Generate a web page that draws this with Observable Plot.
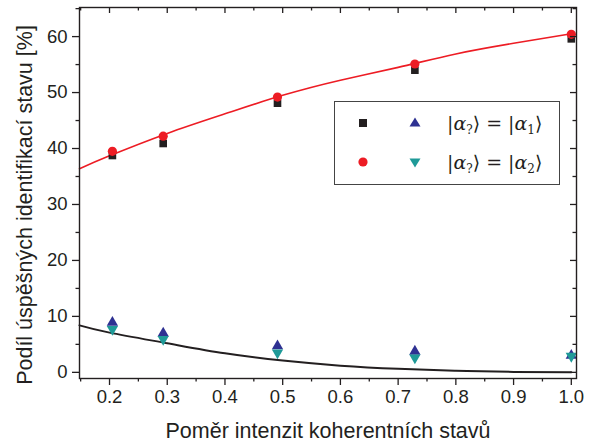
<!DOCTYPE html>
<html><head><meta charset="utf-8">
<script src="https://cdn.jsdelivr.net/npm/d3@7"></script>
<script src="https://cdn.jsdelivr.net/npm/@observablehq/plot@0.6"></script>
<style>
body{margin:0;background:#fff;}
#wrap{position:relative;width:590px;height:442px;}
#legend{position:absolute;left:334px;top:101px;width:226px;height:84px;border:1px solid #444;background:#fff;box-sizing:border-box;}
#legend .row{position:absolute;left:0;width:100%;height:30px;}
#legend svg{position:absolute;top:0;left:0;overflow:visible;}
#legend .txt{position:absolute;left:112px;top:2px;font-family:"DejaVu Serif","Liberation Serif",serif;font-size:19px;color:#231f20;white-space:nowrap;line-height:26px;}
#legend .txt i{font-style:italic;}
#legend .txt sub{font-size:12px;font-style:normal;vertical-align:-4px;line-height:0;}
</style></head><body><div id="wrap"></div>
<script>
// measured data
const ratio    = [0.205, 0.293, 0.491, 0.729, 1.0];
const squares  = [38.75, 40.9, 48.1, 54.0, 59.6];   // |α?>=|α1>, black squares
const circles  = [39.5, 42.2, 49.2, 55.1, 60.4];    // |α?>=|α2>, red circles
const triUp    = [8.9, 7.0, 4.7, 3.75, 3.0];        // |α?>=|α1>, blue triangles
const triDown  = [7.7, 5.9, 3.5, 2.6, 2.9];         // |α?>=|α2>, teal triangles
// fitted curves
const fitX     = [0.148, 0.2, 0.3, 0.4, 0.5, 0.6, 0.7, 0.8, 0.9, 1.0];
const fitRed   = [36.4, 38.7, 42.7, 46.2, 49.5, 52.2, 54.5, 56.9, 58.8, 60.5];
const fitBlack = [8.4, 7.1, 5.2, 3.4, 2.1, 1.2, 0.65, 0.3, 0.08, 0.0];
// ticks
const xMajor = [0.2, 0.3, 0.4, 0.5, 0.6, 0.7, 0.8, 0.9, 1.0];
const xMinor = [0.15, 0.25, 0.35, 0.45, 0.55, 0.65, 0.75, 0.85, 0.95];
const yMajor = [0, 10, 20, 30, 40, 50, 60];
const yMinor = [5, 15, 25, 35, 45, 55, 65];
const xLabel = "Poměr intenzit koherentních stavů";
const yLabel = "Podíl úspěšných identifikací stavu [%]";

const pts = (xs, ys) => xs.map((x, i) => ({x, y: ys[i]}));
const dark = "#231f20";
const W = 590, H = 442, mT = 7, mB = 64, mL = 79, mR = 14;
const fh = H - mT - mB, fw = W - mL - mR;

const chart = Plot.plot({
  width: W, height: H,
  marginTop: mT, marginBottom: mB, marginLeft: mL, marginRight: mR,
  style: {fontFamily: "'Liberation Sans', Arial, sans-serif", color: dark, background: "#fff"},
  x: {domain: [0.148, 1.009]},
  y: {domain: [-1.1, 65.2]},
  marks: [
    Plot.line(pts(fitX, fitBlack), {x: "x", y: "y", stroke: dark, strokeWidth: 2, curve: "natural"}),
    Plot.line(pts(fitX, fitRed), {x: "x", y: "y", stroke: "#ed1c24", strokeWidth: 1.6, curve: "natural"}),
    Plot.dot(pts(ratio, squares), {x: "x", y: "y", symbol: "square", r: 4.3, fill: dark, stroke: null}),
    Plot.dot(pts(ratio, circles), {x: "x", y: "y", symbol: "circle", r: 4.6, fill: "#ed1c24", stroke: null}),
    Plot.dot(pts(ratio, triUp), {x: "x", y: "y", symbol: "triangle", r: 4.2, fill: "#2e3192", stroke: null}),
    Plot.dot(pts(ratio, triDown), {x: "x", y: "y", symbol: "triangle", rotate: 180, r: 4.2, fill: "#1f9a98", stroke: null}),
    // bottom axis (outward ticks)
    Plot.axisX({ticks: xMajor, tickSize: 7, tickPadding: 4, tickFormat: d3.format(".1f"), fontSize: 18.5, label: null, stroke: dark, strokeWidth: 1.3}),
    Plot.axisX({ticks: xMinor, tickSize: 3.5, tickFormat: () => "", label: null, stroke: dark, strokeWidth: 1.3}),
    // left axis (outward ticks)
    Plot.axisY({ticks: yMajor, tickSize: 7, tickPadding: 5, tickFormat: d3.format("d"), fontSize: 18.5, label: null, stroke: dark, strokeWidth: 1.3}),
    Plot.axisY({ticks: yMinor, tickSize: 3.5, tickFormat: () => "", label: null, stroke: dark, strokeWidth: 1.3}),
    // top mirror ticks (inward)
    Plot.tickX(xMajor, {x: d => d, insetBottom: fh - 6, stroke: dark, strokeWidth: 1.3}),
    Plot.tickX(xMinor, {x: d => d, insetBottom: fh - 3.5, stroke: dark, strokeWidth: 1.3}),
    // right mirror ticks (inward)
    Plot.tickY(yMajor, {y: d => d, insetLeft: fw - 6, stroke: dark, strokeWidth: 1.3}),
    Plot.tickY(yMinor, {y: d => d, insetLeft: fw - 3.5, stroke: dark, strokeWidth: 1.3}),
    Plot.frame({stroke: dark, strokeWidth: 1.4}),
    Plot.text([xLabel], {frameAnchor: "bottom", textAnchor: "middle", dy: 59, fontSize: 21.5, fill: dark}),
    Plot.text([yLabel], {frameAnchor: "left", textAnchor: "middle", rotate: -90, dx: -54, dy: 12, fontSize: 21.5, fill: dark})
  ]
});
const wrap = document.getElementById("wrap");
wrap.appendChild(chart);

// legend overlay
const legendRows = [
  {m1: "square", c1: dark, m2: "up", c2: "#2e3192", sub: "1", top: 6},
  {m1: "circle", c1: "#ed1c24", m2: "down", c2: "#1f9a98", sub: "2", top: 45}
];
const lg = document.createElement("div");
lg.id = "legend";
for (const r of legendRows) {
  const row = document.createElement("div");
  row.className = "row";
  row.style.top = r.top + "px";
  const s1 = r.m1 === "square"
    ? `<rect x="24" y="11" width="8" height="8" fill="${r.c1}"/>`
    : `<circle cx="28" cy="15" r="4.6" fill="${r.c1}"/>`;
  const s2 = r.m2 === "up"
    ? `<path d="M80,9.5 L85.5,18.5 L74.5,18.5 Z" fill="${r.c2}"/>`
    : `<path d="M80,20.5 L85.5,11.5 L74.5,11.5 Z" fill="${r.c2}"/>`;
  row.innerHTML = `<svg width="226" height="30">${s1}${s2}</svg>` +
    `<div class="txt">|<i>α</i><sub>?</sub>⟩ = |<i>α</i><sub>${r.sub}</sub>⟩</div>`;
  lg.appendChild(row);
}
wrap.appendChild(lg);
</script>
</body></html>
